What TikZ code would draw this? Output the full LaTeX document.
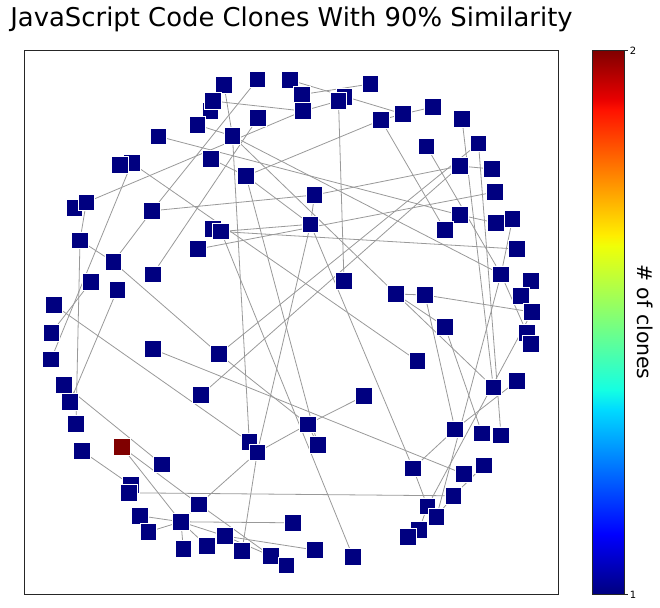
\documentclass[tikz,border=0pt]{standalone}
\usepackage{fontspec}
\setmainfont{DejaVu Sans}
\usetikzlibrary{backgrounds}

\definecolor{jetlow}{rgb}{0,0,0.5}
\definecolor{jethigh}{rgb}{0.5,0,0}
\definecolor{jetA}{rgb}{0,0,1}
\definecolor{jetB}{rgb}{0,0.86,1}
\definecolor{jetC}{rgb}{0.08,1,0.89}
\definecolor{jetD}{rgb}{0.94,1,0.03}
\definecolor{jetE}{rgb}{1,0.93,0}
\definecolor{jetF}{rgb}{1,0.07,0}
\definecolor{jetG}{rgb}{0.91,0,0}

\begin{document}
\begin{tikzpicture}[x=0.75pt,y=-0.75pt,
    clone/.style={rectangle, fill=jetlow, draw=white, line width=0.5pt, minimum size=12.4pt, inner sep=0pt},
    hot/.style={clone, fill=jethigh},
    link/.style={draw=black!40, line width=0.6pt},
    frame/.style={draw=black!85, line width=0.6pt},
    ticklabel/.style={anchor=west, inner sep=0pt, font=\fontsize{7.5}{9}\selectfont}
  ]
  \useasboundingbox (0,0) rectangle (660,607);

  \node[anchor=base, inner sep=0pt, font=\fontsize{19.4}{23}\selectfont] (title) at (291.5,26.5) {JavaScript Code Clones With 90\% Similarity};
  \draw[frame] (24,50) rectangle (558,594);

  % clone nodes
  \foreach \n/\x/\y in {1/224/85, 2/257.5/79.5, 3/290/80, 5/210.5/111, 4/212.8/101, 6/302/94.5,
      7/344.5/97, 8/338.5/101, 9/370.5/84, 10/197.5/125, 11/258/118, 12/303/111, 13/158.3/136.3,
      14/232.5/136, 15/381/120, 16/403/114, 17/433/107, 18/462/119, 20/131.7/163, 19/120/164.8,
      21/211/158.7, 22/246/176, 23/426.5/146.5, 24/478.5/143.5, 25/460/166, 26/492/169,
      27/74.3/207.8, 28/86.3/202.3, 29/152/210.8, 30/314.5/195, 31/495/192, 32/213/229,
      33/221/231.5, 34/310.5/224.3, 35/460/215, 36/496/223, 37/512.5/219, 38/445/230,
      39/80/240.3, 40/198/249, 41/517/249, 42/113.3/262, 43/152.7/274.3, 44/91/281.8,
      45/117.2/290, 46/344/281, 47/501/274.3, 48/531/281, 49/396/294, 50/425/295, 51/521/296,
      52/532/312, 53/53.8/304.8, 54/445/326.7, 55/51.3/332.8, 56/527/333, 57/531/344,
      58/152.7/349, 59/219/354, 60/51/359.5, 61/417.5/361, 62/64/384.7, 63/517/381,
      64/493.3/387.3, 65/70/402, 66/201/395, 67/364/396, 68/76/424, 69/307.8/424.3,
      70/455/429.3, 71/482/433.3, 72/501/435.3, 73/317.8/445, 74/249.3/442, 75/257.3/452.3,
      76/82/451, 78/162/464.3, 79/413/468.3, 80/484/465.3, 81/464/474, 82/131/485,
      83/129/492.8, 84/453.3/495.8, 85/199/504.3, 86/427.5/506.3, 87/140/515.8, 88/181/521.8,
      89/436.5/516.8, 90/292.8/522.8, 91/419/529.8, 92/148.5/531.8, 93/408/536.8, 94/225/536,
      95/183.3/549, 96/207/546, 97/242/550.8, 98/271/556, 99/315/550, 100/286.5/565.3,
      101/353/556.8}
    \node[clone] (c\n) at (\x,\y) {};
  \node[hot] (c77) at (122,447) {};

  % similarity links
  \begin{scope}[on background layer]
    \foreach \a/\b in {1/14, 2/29, 3/16, 4/12, 6/9, 12/8, 8/46, 10/14, 13/35, 15/16, 15/38,
        16/17, 18/64, 21/22, 22/15, 22/34, 22/73, 24/59, 24/72, 25/26, 25/66, 28/12, 28/39,
        29/30, 30/25, 30/34, 33/34, 33/41, 33/101, 40/31, 34/75, 34/79, 35/36, 20/60, 20/61,
        11/43, 14/47, 14/49, 23/47, 37/47, 47/56, 47/89, 49/50, 49/54, 49/64, 50/52, 50/70,
        54/71, 52/86, 63/70, 70/79, 79/86, 84/80, 84/89, 86/91, 39/42, 29/42, 42/59, 45/65,
        39/68, 44/55, 53/74, 14/74, 58/81, 59/69, 67/69, 69/75, 69/73, 75/85, 75/97, 62/78,
        77/85, 77/88, 76/82, 83/84, 87/88, 92/88, 85/88, 88/90, 88/94, 88/95, 88/96, 85/98,
        94/99, 94/98}
      \draw[link] (c\a) -- (c\b);
  \end{scope}

  % colour bar
  \shade[bottom color=jetlow, top color=jetA] (592,594) rectangle (624,534.16);
  \shade[bottom color=jetA, top color=jetB] (592,534.4) rectangle (624,409.04);
  \shade[bottom color=jetB, top color=jetC] (592,409.3) rectangle (624,390);
  \shade[bottom color=jetC, top color=jetD] (592,390.3) rectangle (624,245.84);
  \shade[bottom color=jetD, top color=jetE] (592,246.1) rectangle (624,234.96);
  \shade[bottom color=jetE, top color=jetF] (592,235.2) rectangle (624,109.84);
  \shade[bottom color=jetF, top color=jetG] (592,110.1) rectangle (624,98.96);
  \shade[bottom color=jetG, top color=jethigh] (592,99.2) rectangle (624,50);
  \draw[frame] (592,50) rectangle (624,594);
  \draw[frame] (624,50) -- (627.5,50);
  \draw[frame] (624,594) -- (627.5,594);
  \node[ticklabel] (tickhigh) at (629.5,50.5) {2};
  \node[ticklabel] (ticklow) at (629.5,594.5) {1};
  \node[rotate=-90, font=\fontsize{15.3}{18}\selectfont] (cbarlabel) at (645,322) {\# of clones};
\end{tikzpicture}
\end{document}
